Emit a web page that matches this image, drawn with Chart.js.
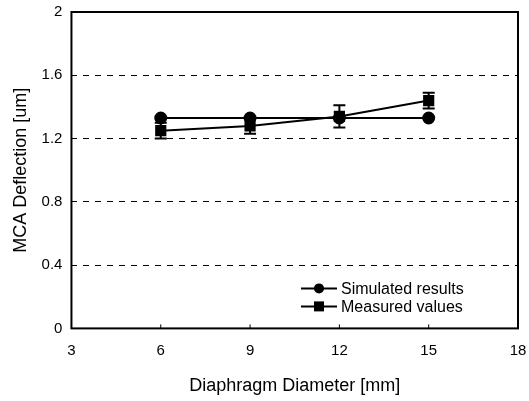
<!DOCTYPE html>
<html>
<head>
<meta charset="utf-8">
<script src="https://cdn.jsdelivr.net/npm/chart.js@4/dist/chart.umd.min.js"></script>
<style>
  html, body { margin: 0; padding: 0; background: #fff; }
  #wrap { width: 529px; height: 401px; }
</style>
</head>
<body>
<div id="wrap"><canvas id="chart" width="529" height="401"></canvas></div>
<script>
var diameters = [6, 9, 12, 15];
var simulated = [1.33, 1.33, 1.33, 1.33];
var measured = [1.25, 1.28, 1.34, 1.44];
var measuredErr = [0.05, 0.05, 0.07, 0.05];
var xTicks = [3, 6, 9, 12, 15, 18];
var yTicks = [0, 0.4, 0.8, 1.2, 1.6, 2];

function pts(ys) {
  return diameters.map(function (x, i) { return { x: x, y: ys[i] }; });
}

var font = '"Liberation Sans", Arial, sans-serif';

// error bars for measured values
var errorBars = {
  id: 'errorBars',
  afterDatasetsDraw: function (chart) {
    var ctx = chart.ctx, xs = chart.scales.x, ys = chart.scales.y;
    ctx.save();
    ctx.strokeStyle = '#000';
    ctx.lineWidth = 2;
    diameters.forEach(function (d, i) {
      var px = xs.getPixelForValue(d);
      var top = ys.getPixelForValue(measured[i] + measuredErr[i]);
      var bot = ys.getPixelForValue(measured[i] - measuredErr[i]);
      ctx.beginPath();
      ctx.moveTo(px, top); ctx.lineTo(px, bot);
      ctx.moveTo(px - 6, top); ctx.lineTo(px + 6, top);
      ctx.moveTo(px - 6, bot); ctx.lineTo(px + 6, bot);
      ctx.stroke();
    });
    ctx.restore();
  }
};

// frame, inner ticks and legend inside plot
var frame = {
  id: 'frame',
  afterDraw: function (chart) {
    var ctx = chart.ctx, a = chart.chartArea, xs = chart.scales.x;
    ctx.save();
    ctx.strokeStyle = '#000';
    ctx.lineWidth = 2;
    ctx.strokeRect(a.left, a.top, a.right - a.left, a.bottom - a.top);
    ctx.lineWidth = 1;
    xTicks.forEach(function (t) {
      var px = xs.getPixelForValue(t);
      ctx.beginPath(); ctx.moveTo(px, a.bottom); ctx.lineTo(px, a.bottom - 4); ctx.stroke();
    });
    // legend
    var items = chart.data.datasets;
    var lx = a.right - 217, ly = a.bottom - 40;
    ctx.font = '16px ' + font;
    ctx.textBaseline = 'middle';
    items.forEach(function (ds, i) {
      var y = ly + i * 18;
      ctx.lineWidth = 2;
      ctx.beginPath(); ctx.moveTo(lx, y); ctx.lineTo(lx + 36, y); ctx.stroke();
      ctx.fillStyle = '#000';
      if (ds.pointStyle === 'rect') {
        ctx.fillRect(lx + 13, y - 5, 10, 10);
      } else {
        ctx.beginPath(); ctx.arc(lx + 18, y, 5, 0, Math.PI * 2); ctx.fill();
      }
      ctx.fillText(ds.label, lx + 40, y + 1);
    });
    ctx.restore();
  }
};

new Chart(document.getElementById('chart'), {
  type: 'scatter',
  data: {
    datasets: [
      {
        label: 'Simulated results',
        data: pts(simulated),
        showLine: true,
        borderColor: '#000',
        backgroundColor: '#000',
        borderWidth: 2,
        pointStyle: 'circle',
        pointRadius: 5.5
      },
      {
        label: 'Measured values',
        data: pts(measured),
        showLine: true,
        borderColor: '#000',
        backgroundColor: '#000',
        borderWidth: 2,
        pointStyle: 'rect',
        pointRadius: 6.5
      }
    ]
  },
  options: {
    responsive: false,
    animation: false,
    layout: { padding: { left: 10, right: 11, top: 12, bottom: 4 } },
    plugins: {
      legend: { display: false },
      tooltip: { enabled: false }
    },
    scales: {
      x: {
        type: 'linear',
        min: 3, max: 18,
        afterBuildTicks: function (s) { s.ticks = xTicks.map(function (v) { return { value: v }; }); },
        afterFit: function (s) { s.paddingLeft = 0; s.paddingRight = 0; },
        grid: { display: false },
        border: { display: false },
        ticks: { color: '#000', padding: 5, font: { size: 15, family: font } },
        title: { display: true, text: 'Diaphragm Diameter [mm]', color: '#000', padding: { top: 11, bottom: 0 },
                 font: { size: 18, family: font } }
      },
      y: {
        min: 0, max: 2,
        afterBuildTicks: function (s) { s.ticks = yTicks.map(function (v) { return { value: v }; }); },
        afterFit: function (s) { s.paddingTop = 0; s.paddingBottom = 0; },
        grid: {
          color: function (c) { return (c.tick && (c.tick.value === 0 || c.tick.value === 2)) ? 'rgba(0,0,0,0)' : '#000'; },
          lineWidth: 1,
          drawTicks: false
        },
        border: { display: false, dash: [6, 6] },
        ticks: { color: '#000', padding: 9, font: { size: 15, family: font },
                 callback: function (v) { return String(v); } },
        title: { display: true, text: 'MCA Deflection [um]', color: '#000', padding: { top: 0, bottom: 1 },
                 font: { size: 18, family: font } }
      }
    }
  },
  plugins: [errorBars, frame]
});
</script>
</body>
</html>
